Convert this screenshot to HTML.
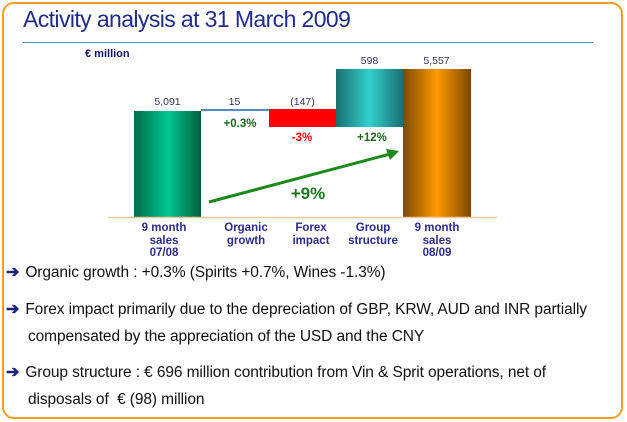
<!DOCTYPE html>
<html><head><style>
body{margin:0;width:627px;height:422px;background:#fff;font-family:"Liberation Sans",sans-serif;overflow:hidden;position:relative}
.frame{position:absolute;left:2px;top:2px;width:617px;height:413px;border:2px solid #f0a020;border-radius:12px}
.t{position:absolute;white-space:nowrap}
.b{position:absolute;font-size:15.5px;color:#111;line-height:27px;left:6px;letter-spacing:-0.1px}
.ar{color:#1a237e;font-weight:bold;margin-right:6px;font-size:16px}
.lab{position:absolute;color:#2b2b8c;font-weight:bold;font-size:11.5px;text-align:center;line-height:12.5px;width:74px}
.v{position:absolute;font-size:10.5px;color:#333366;text-align:center;width:67px}
</style></head><body>
<div class="frame"></div>
<div class="t" style="left:23px;top:6px;font-size:23px;color:#1f2d8a;letter-spacing:-0.6px">Activity analysis at 31 March 2009</div>
<div style="position:absolute;left:23px;top:42px;width:570px;height:1px;background:#4a90b8"></div>
<div class="t" style="left:85px;top:48px;font-size:11px;font-weight:bold;color:#101070">€ million</div>
<svg style="position:absolute;left:0;top:0" width="627" height="260">
<defs>
<linearGradient id="g1" x1="0" x2="1"><stop offset="0" stop-color="#006a4a"/><stop offset=".5" stop-color="#00c890"/><stop offset="1" stop-color="#006040"/></linearGradient>
<linearGradient id="g2" x1="0" x2="1"><stop offset="0" stop-color="#1a7070"/><stop offset=".5" stop-color="#30d0cc"/><stop offset="1" stop-color="#1a7070"/></linearGradient>
<linearGradient id="g3" x1="0" x2="1"><stop offset="0" stop-color="#7a4a00"/><stop offset=".5" stop-color="#ff9a00"/><stop offset="1" stop-color="#7a4800"/></linearGradient>
</defs>
<rect x="134" y="111" width="67" height="106" fill="url(#g1)"/>
<rect x="201" y="109" width="68" height="2" fill="#5a8ac0"/>
<rect x="269" y="109" width="67" height="18" fill="#ff0000"/>
<rect x="336" y="69" width="67" height="58" fill="url(#g2)"/>
<rect x="403" y="69" width="68" height="148" fill="url(#g3)"/>
<line x1="108" y1="217.5" x2="497" y2="217.5" stroke="#f5c9a0" stroke-width="1.5"/>
<line x1="209" y1="202" x2="390" y2="154" stroke="#1a8a1a" stroke-width="3"/>
<polygon points="399,151 386,149 390,160" fill="#1a8a1a"/>
<text x="308" y="199" font-size="17" font-weight="bold" fill="#1a7a1a" text-anchor="middle" font-family="Liberation Sans">+9%</text>
<text x="240" y="127" font-size="11.5" font-weight="bold" fill="#1a6a1a" text-anchor="middle" font-family="Liberation Sans">+0.3%</text>
<text x="302" y="141" font-size="11.5" font-weight="bold" fill="#ff0000" text-anchor="middle" font-family="Liberation Sans">-3%</text>
<text x="372" y="141" font-size="11.5" font-weight="bold" fill="#1a6a1a" text-anchor="middle" font-family="Liberation Sans">+12%</text>
</svg>
<div class="v" style="left:134px;top:96px">5,091</div>
<div class="v" style="left:201px;top:96px">15</div>
<div class="v" style="left:269px;top:96px">(147)</div>
<div class="v" style="left:336px;top:55px">598</div>
<div class="v" style="left:403px;top:55px">5,557</div>
<div class="lab" style="left:127px;top:222px">9 month<br>sales<br>07/08</div>
<div class="lab" style="left:209px;top:222px">Organic<br>growth</div>
<div class="lab" style="left:274px;top:222px">Forex<br>impact</div>
<div class="lab" style="left:336px;top:222px">Group<br>structure</div>
<div class="lab" style="left:400px;top:222px">9 month<br>sales<br>08/09</div>
<div class="b" style="top:259px"><span class="ar">➔</span>Organic growth : +0.3% (Spirits +0.7%, Wines -1.3%)</div>
<div class="b" style="top:296px"><span class="ar">➔</span>Forex impact primarily due to the depreciation of GBP, KRW, AUD and INR partially<br><span style="margin-left:22px">compensated by the appreciation of the USD and the CNY</span></div>
<div class="b" style="top:359px"><span class="ar">➔</span>Group structure : € 696 million contribution from Vin &amp; Sprit operations, net of<br><span style="margin-left:22px">disposals of &nbsp;€ (98) million</span></div>
</body></html>
